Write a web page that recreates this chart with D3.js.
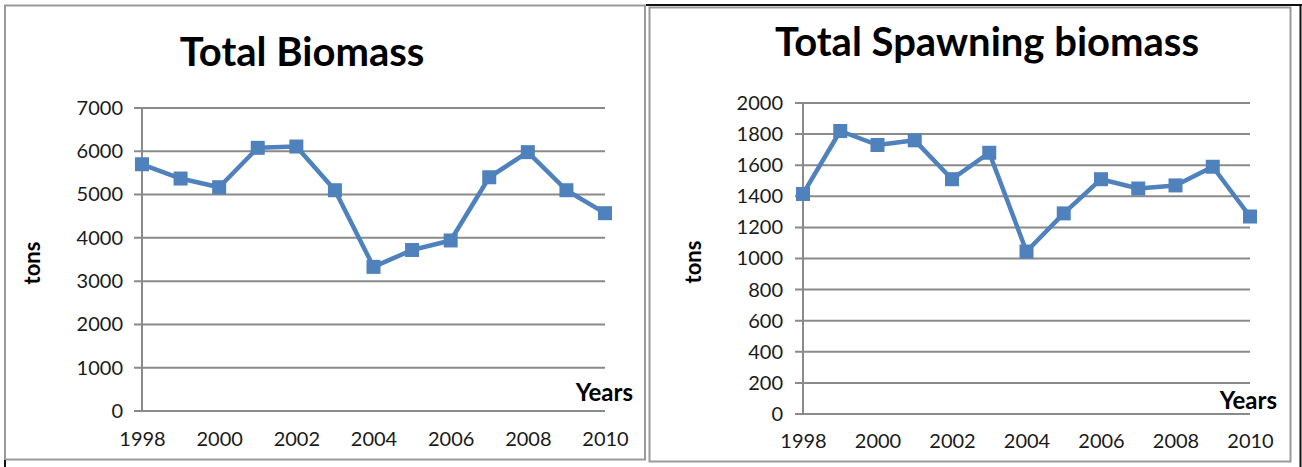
<!DOCTYPE html>
<html>
<head>
<meta charset="utf-8">
<script src="https://cdn.jsdelivr.net/npm/d3@7"></script>
<style>
  html, body { margin: 0; padding: 0; background: #fff; }
  svg { display: block; }
  text { font-family: Lato, "Open Sans", sans-serif; fill: #1a1a1a; }
</style>
</head>
<body>
<svg id="chart" width="1302" height="467"></svg>
<script>
// Yearly series (tons)
const years = [1998, 1999, 2000, 2001, 2002, 2003, 2004, 2005, 2006, 2007, 2008, 2009, 2010];
const totalBiomass = [5700, 5370, 5170, 6080, 6110, 5100, 3330, 3720, 3940, 5400, 5980, 5100, 4570];
const spawningBiomass = [1415, 1820, 1730, 1760, 1510, 1680, 1045, 1290, 1510, 1450, 1470, 1590, 1270];

// Axis tick values
const yearTicks = [1998, 2000, 2002, 2004, 2006, 2008, 2010];
const biomassTicks = [0, 1000, 2000, 3000, 4000, 5000, 6000, 7000];
const spawningTicks = [0, 200, 400, 600, 800, 1000, 1200, 1400, 1600, 1800, 2000];

const titles = ["Total Biomass", "Total Spawning biomass"];
const yTitle = "tons";
const xTitle = "Years";

const svg = d3.select("#chart");
const lineColor = "#4f81bd";
const gridColor = "#8a8a8a";
const tickFont = 20;

// Panel frames
svg.append("rect").attr("x", 5).attr("y", 5.5).attr("width", 640).attr("height", 454)
  .attr("fill", "none").attr("stroke", "#9a9a9a").attr("stroke-width", 2);
svg.append("line").attr("x1", 5).attr("x2", 5).attr("y1", 460).attr("y2", 467)
  .attr("stroke", "#111").attr("stroke-width", 2);
svg.append("line").attr("x1", 646).attr("x2", 1302).attr("y1", 5).attr("y2", 5)
  .attr("stroke", "#111").attr("stroke-width", 2);
svg.append("rect").attr("x", 649.5).attr("y", 7.5).attr("width", 641).attr("height", 454)
  .attr("fill", "none").attr("stroke", "#9a9a9a").attr("stroke-width", 2);
svg.append("line").attr("x1", 1300.5).attr("x2", 1300.5).attr("y1", 5).attr("y2", 467)
  .attr("stroke", "#111").attr("stroke-width", 2);

function drawPanel(cfg) {
  const x = d3.scaleLinear().domain([years[0], years[years.length - 1]]).range([cfg.x0, cfg.x1]);
  const y = d3.scaleLinear().domain([0, cfg.yMax]).range([cfg.y0, cfg.y1]);
  const g = svg.append("g");

  // Title
  g.append("text").attr("x", cfg.titleX).attr("y", cfg.titleY)
    .attr("text-anchor", "middle").attr("font-size", 40).attr("font-weight", 700)
    .style("fill", "#000").text(cfg.title);

  // Horizontal gridlines
  g.selectAll("line.grid").data(cfg.ticks).join("line").attr("class", "grid")
    .attr("x1", cfg.x0 - 8).attr("x2", cfg.x1)
    .attr("y1", d => y(d)).attr("y2", d => y(d))
    .attr("stroke", gridColor).attr("stroke-width", 2);
  // Vertical axis line
  g.append("line").attr("x1", cfg.x0).attr("x2", cfg.x0)
    .attr("y1", y(cfg.yMax)).attr("y2", y(0))
    .attr("stroke", gridColor).attr("stroke-width", 2);

  // Y tick labels
  const ya = g.append("g").attr("transform", `translate(${cfg.x0},0)`)
    .call(d3.axisLeft(y).tickValues(cfg.ticks).tickSize(0).tickPadding(cfg.yPad).tickFormat(d3.format("d")));
  ya.select(".domain").remove();
  ya.selectAll("text").attr("font-size", tickFont).attr("font-family", "Lato, sans-serif").style("fill", "#1a1a1a");

  // X tick labels
  const xa = g.append("g").attr("transform", `translate(0,${y(0)})`)
    .call(d3.axisBottom(x).tickValues(yearTicks).tickSize(0).tickPadding(cfg.xPad).tickFormat(d3.format("d")));
  xa.select(".domain").remove();
  xa.selectAll("text").attr("font-size", tickFont).attr("font-family", "Lato, sans-serif").style("fill", "#1a1a1a");

  // Axis titles
  g.append("text").attr("transform", `translate(${cfg.yTitleX},${cfg.yTitleY}) rotate(-90)`)
    .attr("text-anchor", "middle").attr("font-size", 22).attr("font-weight", 700)
    .style("fill", "#000").text(yTitle);
  g.append("text").attr("x", cfg.xTitleX).attr("y", cfg.xTitleY)
    .attr("text-anchor", "end").attr("font-size", 24).attr("font-weight", 700)
    .style("fill", "#000").text(xTitle);

  // Series line and square markers
  const line = d3.line().x((d, i) => x(years[i])).y(d => y(d));
  g.append("path").datum(cfg.values).attr("d", line)
    .attr("fill", "none").attr("stroke", lineColor).attr("stroke-width", 4.5)
    .attr("stroke-linejoin", "round");
  const s = 14;
  g.selectAll("rect.marker").data(cfg.values).join("rect").attr("class", "marker")
    .attr("x", (d, i) => x(years[i]) - s / 2).attr("y", d => y(d) - s / 2)
    .attr("width", s).attr("height", s).attr("fill", lineColor);
}

drawPanel({
  title: titles[0], values: totalBiomass, ticks: biomassTicks, yMax: 7000,
  x0: 142, x1: 605, y0: 411, y1: 108,
  titleX: 302, titleY: 66, yPad: 19, xPad: 21,
  yTitleX: 40, yTitleY: 263, xTitleX: 633, xTitleY: 401
});
drawPanel({
  title: titles[1], values: spawningBiomass, ticks: spawningTicks, yMax: 2000,
  x0: 803, x1: 1250, y0: 414, y1: 103,
  titleX: 987, titleY: 56, yPad: 20, xPad: 20,
  yTitleX: 701, yTitleY: 262, xTitleX: 1277, xTitleY: 409
});
</script>
</body>
</html>
